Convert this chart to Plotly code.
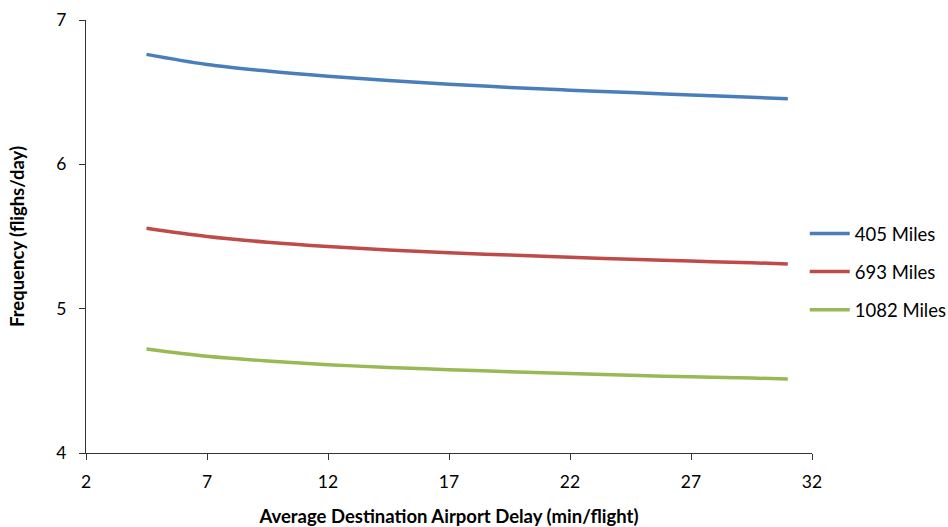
import plotly.graph_objects as go

delay = [4.5, 7, 9.5, 12, 14.5, 17, 19.5, 22, 24.5, 27, 29.5, 31]
freq_405 = [6.762, 6.692, 6.646, 6.61, 6.58, 6.555, 6.533, 6.514, 6.497, 6.48, 6.465, 6.455]
freq_693 = [5.557, 5.50, 5.46, 5.43, 5.407, 5.388, 5.371, 5.356, 5.342, 5.330, 5.318, 5.310]
freq_1082 = [4.72, 4.67, 4.637, 4.612, 4.593, 4.577, 4.563, 4.55, 4.538, 4.528, 4.519, 4.513]
series_names = ["405 Miles", "693 Miles", "1082 Miles"]
colors = ["#4A7EBB", "#BE4B48", "#98B954"]
x_ticks = [2, 7, 12, 17, 22, 27, 32]
y_ticks = [4, 5, 6, 7]

FONT = "Lato, 'Open Sans', sans-serif"

fig = go.Figure()
for i, (name, vals, c) in enumerate(zip(series_names, [freq_405, freq_693, freq_1082], colors)):
    fig.add_trace(go.Scatter(
        x=delay, y=vals, mode="lines", name=name,
        line=dict(color=c, width=3.5, shape="spline", smoothing=1.0),
        legendgroup=f"g{i}",
    ))

axis_common = dict(
    showgrid=False, zeroline=False, showline=True, linecolor="#333333", linewidth=1.3,
    ticks="outside", ticklen=6, tickcolor="#333333", tickwidth=1.3, automargin=False,
    tickfont=dict(family=FONT, size=17.5, color="#000000"),
)

fig.update_layout(
    width=948, height=527,
    paper_bgcolor="white", plot_bgcolor="white",
    margin=dict(l=86, r=136, t=20, b=74, autoexpand=False),
    xaxis=dict(range=[2, 32], tickvals=x_ticks, ticklabelstandoff=7, **axis_common,
               title=dict(text="<b>Average Destination Airport Delay (min/flight)</b>",
                          font=dict(family=FONT, size=18.5, color="#000000"), standoff=22)),
    yaxis=dict(range=[4, 7], tickvals=y_ticks, ticklabelstandoff=9, **axis_common,
               title=dict(text="<b>Frequency (flighs/day)</b>",
                          font=dict(family=FONT, size=18.5, color="#000000"), standoff=26)),
    legend=dict(x=0.99, xanchor="left", y=0.418, yanchor="middle",
                font=dict(family=FONT, size=18.5, color="#000000"),
                itemwidth=40,
                traceorder="grouped", tracegroupgap=11, bgcolor="rgba(0,0,0,0)"),
    showlegend=True,
)

fig.write_html("out.html", post_script="document.body.style.margin='0';",
               config={"displayModeBar": False})
